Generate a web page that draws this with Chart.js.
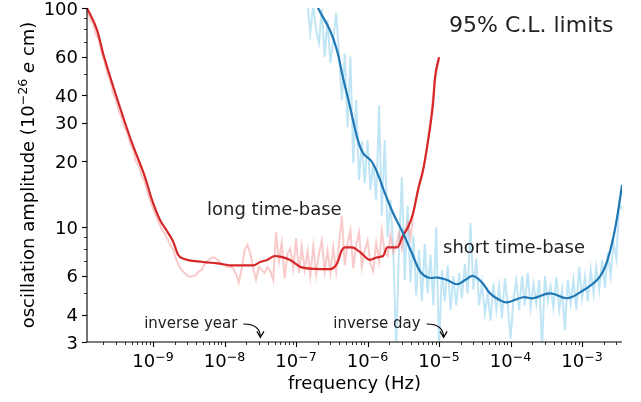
<!DOCTYPE html>
<html>
<head>
<meta charset="utf-8">
<script src="https://cdn.jsdelivr.net/npm/chart.js@4.4.1/dist/chart.umd.min.js"></script>
<style>
  html, body { margin: 0; padding: 0; background: #fff; }
  #wrap { width: 641px; height: 402px; }
</style>
</head>
<body>
<div id="wrap"><canvas id="limits" width="641" height="402"></canvas></div>
<script>
// axis ranges (Hz, 1e-26 e cm)
const xMin = 1.19e-10;
const xMax = 3.62e-3;
const yMin = 3;
const yMax = 100;

const xTickExps = [-9, -8, -7, -6, -5, -4, -3];
const yTickLabels = [3, 4, 6, 10, 20, 30, 40, 60, 100];
const yMinorTicks = [5, 7, 8, 9, 50, 70, 80, 90];

// long time-base, smoothed limit
const redFreq = [1.19e-10, 1.65e-10, 2.0e-10, 2.67e-10, 4.06e-10, 5.08e-10, 7.73e-10, 9.68e-10,
  1.25e-9, 1.57e-9, 1.91e-9, 2.24e-9, 2.63e-9, 5.0e-9, 7.85e-9,
  1.32e-8, 2.51e-8, 3.14e-8, 3.93e-8, 5.08e-8, 5.97e-8, 8.24e-8, 9.68e-8,
  1.14e-7, 2.17e-7, 2.99e-7, 3.74e-7, 4.40e-7, 4.84e-7, 6.07e-7, 7.85e-7,
  1.08e-6, 1.36e-6, 1.65e-6, 1.88e-6, 2.59e-6, 3.14e-6, 3.68e-6, 4.33e-6, 5.08e-6, 5.97e-6, 6.79e-6, 8.24e-6, 8.79e-6,
  1.0e-5];
const redAmp = [100, 79, 62, 45.5, 29.9, 24.2, 16.9, 13.3,
  10.8, 9.6, 8.6, 7.5, 7.2, 6.95, 6.85,
  6.7, 6.7, 6.95, 7.1, 7.4, 7.35, 7.1, 6.85,
  6.6, 6.45, 6.45, 6.85, 7.9, 8.1, 8.1, 7.7,
  7.1, 7.3, 7.4, 8.1, 8.1, 9.2, 10.0, 11.6, 14.8, 18.2, 23.2, 36.8, 48.4,
  59.7];

// short time-base, smoothed limit
const blueFreq = [1.73e-7, 2.03e-7, 2.99e-7, 3.74e-7, 4.54e-7, 5.69e-7, 7.13e-7, 8.65e-7,
  1.16e-6, 1.50e-6, 1.65e-6, 2.28e-6, 3.14e-6, 4.19e-6, 5.42e-6, 7.01e-6, 9.68e-6,
  1.29e-5, 1.79e-5, 2.31e-5, 2.99e-5, 3.99e-5, 5.16e-5, 7.13e-5, 8.93e-5,
  1.50e-4, 2.07e-4, 3.57e-4, 6.17e-4, 9.38e-4,
  1.62e-3, 2.10e-3, 2.63e-3, 3.09e-3, 3.63e-3];
const blueAmp = [115, 100, 79, 64, 48, 35.4, 25.8, 21.8,
  19.8, 16.4, 15.0, 11.6, 9.4, 7.6, 6.3, 5.9, 5.9,
  5.75, 5.5, 5.75, 6.0, 5.6, 5.0, 4.65, 4.55,
  4.8, 4.75, 5.0, 4.75, 5.05,
  5.75, 6.6, 8.5, 11.1, 15.6];

// frequency grid of the unsmoothed limits
const rawFreq = [
  1.20e-10, 1.32e-10, 1.45e-10, 1.58e-10, 1.74e-10, 1.91e-10, 2.09e-10, 2.29e-10, 2.51e-10, 2.75e-10, 3.02e-10, 3.31e-10,
  3.63e-10, 3.98e-10, 4.37e-10, 4.79e-10, 5.25e-10, 5.75e-10, 6.31e-10, 6.92e-10, 7.59e-10, 8.32e-10, 9.12e-10,
  1.00e-9, 1.10e-9, 1.20e-9, 1.32e-9, 1.45e-9, 1.58e-9, 1.74e-9, 1.91e-9, 2.09e-9, 2.29e-9, 2.51e-9, 2.75e-9, 3.02e-9,
  3.31e-9, 3.63e-9, 3.98e-9, 4.37e-9, 4.79e-9, 5.25e-9, 5.75e-9, 6.31e-9, 6.92e-9, 7.59e-9, 8.32e-9, 9.12e-9,
  1.00e-8, 1.10e-8, 1.20e-8, 1.32e-8, 1.45e-8, 1.58e-8, 1.74e-8, 1.91e-8, 2.09e-8, 2.29e-8, 2.51e-8, 2.75e-8, 3.02e-8,
  3.31e-8, 3.63e-8, 3.98e-8, 4.37e-8, 4.79e-8, 5.25e-8, 5.75e-8, 6.31e-8, 6.92e-8, 7.59e-8, 8.32e-8, 9.12e-8,
  1.00e-7, 1.10e-7, 1.20e-7, 1.32e-7, 1.45e-7, 1.58e-7, 1.74e-7, 1.91e-7, 2.09e-7, 2.29e-7, 2.51e-7, 2.75e-7, 3.02e-7,
  3.31e-7, 3.63e-7, 3.98e-7, 4.37e-7, 4.79e-7, 5.25e-7, 5.75e-7, 6.31e-7, 6.92e-7, 7.59e-7, 8.32e-7, 9.12e-7,
  1.00e-6, 1.10e-6, 1.20e-6, 1.32e-6, 1.45e-6, 1.58e-6, 1.74e-6, 1.91e-6, 2.09e-6, 2.29e-6, 2.51e-6, 2.75e-6, 3.02e-6,
  3.31e-6, 3.63e-6, 3.98e-6, 4.37e-6, 4.79e-6, 5.25e-6, 5.75e-6, 6.31e-6, 6.92e-6, 7.59e-6, 8.32e-6, 9.12e-6,
  1.00e-5, 1.10e-5, 1.20e-5, 1.32e-5, 1.45e-5, 1.58e-5, 1.74e-5, 1.91e-5, 2.09e-5, 2.29e-5, 2.51e-5, 2.75e-5, 3.02e-5,
  3.31e-5, 3.63e-5, 3.98e-5, 4.37e-5, 4.79e-5, 5.25e-5, 5.75e-5, 6.31e-5, 6.92e-5, 7.59e-5, 8.32e-5, 9.12e-5,
  1.00e-4, 1.10e-4, 1.20e-4, 1.32e-4, 1.45e-4, 1.58e-4, 1.74e-4, 1.91e-4, 2.09e-4, 2.29e-4, 2.51e-4, 2.75e-4, 3.02e-4,
  3.31e-4, 3.63e-4, 3.98e-4, 4.37e-4, 4.79e-4, 5.25e-4, 5.75e-4, 6.31e-4, 6.92e-4, 7.59e-4, 8.32e-4, 9.12e-4,
  1.00e-3, 1.10e-3, 1.20e-3, 1.32e-3, 1.45e-3, 1.58e-3, 1.74e-3, 1.91e-3, 2.09e-3, 2.29e-3, 2.51e-3, 2.75e-3, 3.02e-3,
  3.31e-3, 3.63e-3
];

// long time-base, raw (starts at 1.20e-10, ends at 1.00e-5)
const pinkRaw = [
  97, 88, 85, 76, 72, 62, 57, 50, 47, 41, 38, 34, 31.5, 28.5, 27, 24, 22.5, 20, 19, 17.2, 16.2, 14.5, 13.2,
  12.2, 11.2, 10.6, 9.8, 9.4, 8.9, 8.3, 7.9, 7.2, 6.7, 6.4, 6.2, 6.0, 5.95, 6.0, 6.05, 6.3, 6.4, 6.8, 7.0, 7.2, 7.3, 7.2, 7.0, 6.8,
  6.7, 6.6, 6.6, 6.5, 6.1, 5.6, 6.5, 7.9, 8.3, 7.6, 6.5, 5.75, 6.6, 6.4, 6.2, 6.6, 6.3, 5.75, 9.5, 7.0, 8.5, 5.85, 7.6, 8.0, 6.5,
  8.9, 6.2, 8.2, 6.4, 7.8, 6.0, 8.2, 6.1, 7.6, 8.7, 6.3, 7.8, 6.2, 8.1, 6.3, 8.3, 11.3, 6.7, 8.4, 9.7, 6.5, 8.3, 9.5, 6.6, 7.9,
  8.7, 6.8, 6.3, 8.5, 7.0, 9.7, 7.6, 7.4, 9.2, 7.7, 8.3, 9.4, 8.0, 9.6, 10.5, 8.9, 11.6, 13.3, 16.0, 17.5, 20.0, 24.5, 31.0, 41.0, 50.0,
  58
];

// short time-base, raw (starts at 1.45e-7)
const blueRawStart = 1.45e-7;
const blueRaw = [
  103, 77, 103, 79, 69, 99, 60, 88, 56, 71, 95, 62, 38, 62, 28.6, 60, 19.6, 38, 16.4, 24.7, 15.9,
  25, 14.8, 19.6, 13.3, 36, 11.3, 25, 9.0, 13.3, 7.9, 2.8, 7.9, 16.9, 5.75, 12.5, 5.6, 9.2, 4.9, 7.9, 4.6, 8.4, 5.0, 7.5, 4.4, 10,
  2.8, 6.4, 4.6, 6.7, 4.2, 6.0, 4.4, 6.2, 4.75, 6.8, 5.0, 10.5, 5.2, 7.2, 4.4, 5.6, 4.05, 5.0, 3.75, 5.55, 4.2, 5.4, 3.85, 5.85, 4.5,
  3.1, 4.75, 5.75, 4.2, 6.0, 4.4, 6.2, 4.3, 5.5, 4.5, 5.75, 2.8, 6.0, 4.6, 5.4, 4.3, 5.9, 4.2, 5.2, 3.4, 5.75, 4.5, 5.75, 4.2, 6.6,
  4.75, 6.0, 4.6, 6.4, 5.0, 6.6, 5.2, 7.1, 5.3, 7.7, 6.0, 8.5, 7.2, 12.9, 12.0
];

// annotation targets
const inverseYear = 3.17e-8;
const inverseDay = 1.157e-5;
const arrowTipAmp = 3.15;

const FONT = '"DejaVu Sans", sans-serif';

function pairs(xs, ys) {
  return ys.map((v, i) => ({ x: xs[i], y: v }));
}

const blueOffset = rawFreq.indexOf(blueRawStart);
const blueRawPts = blueRaw.map((v, i) => ({ x: rawFreq[blueOffset + i], y: v }));

function drawPower(ctx, cx, baseY, exp, size) {
  const base = '10';
  const sup = '\u2212' + Math.abs(exp);
  const supSize = size * 0.7;
  ctx.font = size + 'px ' + FONT;
  const wb = ctx.measureText(base).width;
  ctx.font = supSize + 'px ' + FONT;
  const ws = ctx.measureText(sup).width;
  const x0 = cx - (wb + ws) / 2;
  ctx.textAlign = 'left';
  ctx.font = size + 'px ' + FONT;
  ctx.fillText(base, x0, baseY);
  ctx.font = supSize + 'px ' + FONT;
  ctx.fillText(sup, x0 + wb, baseY - 6.5);
}

function drawArrowNote(ctx, text, tipX, tipY) {
  ctx.font = '15px ' + FONT;
  ctx.textAlign = 'right';
  ctx.fillStyle = '#222';
  ctx.fillText(text, tipX - 23, 327.5);

  const sx = tipX - 17, sy = 324;
  ctx.strokeStyle = '#000';
  ctx.lineWidth = 1.2;
  ctx.beginPath();
  ctx.moveTo(sx, sy);
  ctx.quadraticCurveTo(tipX, sy, tipX, tipY);
  ctx.stroke();
  ctx.beginPath();
  ctx.moveTo(tipX - 3.5, tipY - 6);
  ctx.lineTo(tipX, tipY);
  ctx.lineTo(tipX + 3.5, tipY - 6);
  ctx.stroke();
}

// matplotlib-like spines, ticks and labels drawn on the chart's own scales
const axesPlugin = {
  id: 'mplAxes',
  afterDraw(chart) {
    const { ctx, chartArea: a, scales: { x, y } } = chart;
    ctx.save();
    ctx.strokeStyle = '#000';
    ctx.fillStyle = '#000';

    ctx.lineWidth = 1.1;
    ctx.beginPath();
    ctx.moveTo(a.left, a.top);
    ctx.lineTo(a.left, a.bottom);
    ctx.lineTo(a.right, a.bottom);
    ctx.stroke();

    // y ticks
    const yAll = yTickLabels.concat(yMinorTicks);
    yAll.forEach(v => {
      const py = Math.round(y.getPixelForValue(v)) + 0.5;
      const major = yTickLabels.includes(v);
      ctx.lineWidth = major ? 1.1 : 0.8;
      ctx.beginPath();
      ctx.moveTo(a.left, py);
      ctx.lineTo(a.left - (major ? 5 : 3), py);
      ctx.stroke();
    });
    ctx.font = '18px ' + FONT;
    ctx.textAlign = 'right';
    ctx.textBaseline = 'alphabetic';
    yTickLabels.forEach(v => {
      ctx.fillText(String(v), a.left - 9, y.getPixelForValue(v) + 6.5);
    });

    // x ticks
    for (let e = -10; e <= -3; e++) {
      for (let m = 1; m <= 9; m++) {
        const v = m * Math.pow(10, e);
        if (v < xMin || v > xMax) continue;
        const px = Math.round(x.getPixelForValue(v)) + 0.5;
        ctx.lineWidth = m === 1 ? 1.1 : 0.8;
        ctx.beginPath();
        ctx.moveTo(px, a.bottom);
        ctx.lineTo(px, a.bottom + (m === 1 ? 5 : 3));
        ctx.stroke();
      }
    }
    xTickExps.forEach(e => {
      drawPower(ctx, x.getPixelForValue(Math.pow(10, e)), 367, e, 18);
    });

    // axis titles
    ctx.font = '18px ' + FONT;
    ctx.textAlign = 'center';
    ctx.fillText('frequency (Hz)', (a.left + a.right) / 2, 389);

    ctx.save();
    ctx.translate(33.5, (a.top + a.bottom) / 2);
    ctx.rotate(-Math.PI / 2);
    const p1 = 'oscillation amplitude (10';
    const p2 = '\u221226';
    const p4 = 'e';
    const p5 = ' cm)';
    ctx.font = '18px ' + FONT;
    const w1 = ctx.measureText(p1).width;
    const w3 = ctx.measureText(' ').width;
    const w5 = ctx.measureText(p5).width;
    ctx.font = '12.6px ' + FONT;
    const w2 = ctx.measureText(p2).width;
    ctx.font = 'italic 18px ' + FONT;
    const w4 = ctx.measureText(p4).width;
    let cx = -(w1 + w2 + w3 + w4 + w5) / 2;
    ctx.textAlign = 'left';
    ctx.font = '18px ' + FONT;
    ctx.fillText(p1, cx, 0); cx += w1;
    ctx.font = '12.6px ' + FONT;
    ctx.fillText(p2, cx, -7); cx += w2 + w3;
    ctx.font = 'italic 18px ' + FONT;
    ctx.fillText(p4, cx, 0); cx += w4;
    ctx.font = '18px ' + FONT;
    ctx.fillText(p5, cx, 0);
    ctx.restore();

    // in-plot texts
    ctx.fillStyle = '#222';
    ctx.textAlign = 'left';
    ctx.font = '22px ' + FONT;
    ctx.fillText('95% C.L. limits', 449, 32);
    ctx.font = '18px ' + FONT;
    ctx.fillText('long time-base', 207, 215);
    ctx.fillText('short time-base', 443, 253);

    const tipY = y.getPixelForValue(arrowTipAmp);
    drawArrowNote(ctx, 'inverse year', x.getPixelForValue(inverseYear), tipY);
    drawArrowNote(ctx, 'inverse day', x.getPixelForValue(inverseDay), tipY);

    ctx.restore();
  }
};

const ctx = document.getElementById('limits').getContext('2d');

new Chart(ctx, {
  type: 'line',
  data: {
    datasets: [
      {
        label: 'short time-base',
        data: pairs(blueFreq, blueAmp),
        borderColor: '#1f77b4',
        borderWidth: 2.2,
        tension: 0.4,
        pointRadius: 0,
      },
      {
        label: 'long time-base',
        data: pairs(redFreq, redAmp),
        borderColor: '#d62728',
        borderWidth: 2.2,
        cubicInterpolationMode: 'monotone',
        pointRadius: 0,
      },
      {
        label: 'long time-base raw',
        data: pairs(rawFreq, pinkRaw),
        borderColor: 'rgba(240, 128, 128, 0.42)',
        borderWidth: 2,
        tension: 0,
        pointRadius: 0,
      },
      {
        label: 'short time-base raw',
        data: blueRawPts,
        borderColor: 'rgba(135, 206, 235, 0.52)',
        borderWidth: 2,
        tension: 0,
        pointRadius: 0,
      },
    ],
  },
  options: {
    responsive: false,
    animation: false,
    layout: { padding: { left: 87, right: 19, top: 8, bottom: 60 } },
    plugins: {
      legend: { display: false },
      tooltip: { enabled: false },
    },
    scales: {
      x: {
        type: 'logarithmic',
        display: false,
        min: xMin,
        max: xMax,
        afterBuildTicks: (s) => { s.min = xMin; s.max = xMax; },
      },
      y: {
        type: 'logarithmic',
        display: false,
        min: yMin,
        max: yMax,
        afterBuildTicks: (s) => { s.min = yMin; s.max = yMax; },
      },
    },
  },
  plugins: [axesPlugin],
});
</script>
</body>
</html>
